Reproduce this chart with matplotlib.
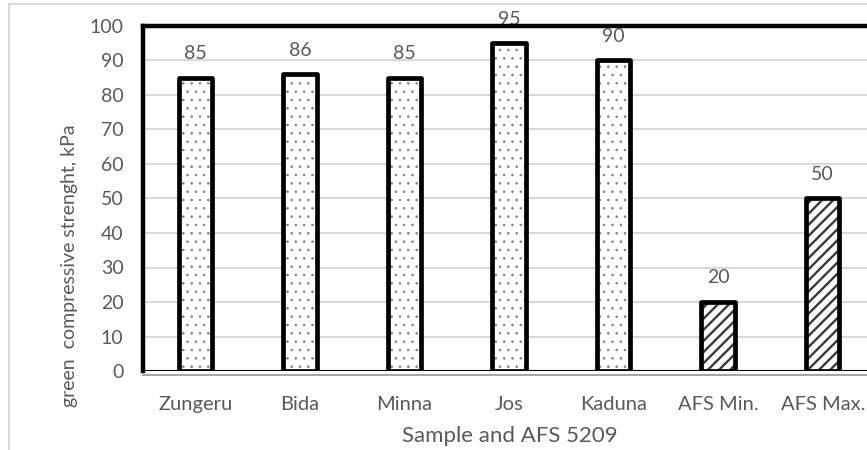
import matplotlib
matplotlib.use("Agg")
from matplotlib import pyplot as plt
from matplotlib.patches import Rectangle

categories = ["Zungeru", "Bida", "Minna", "Jos", "Kaduna", "AFS Min.", "AFS Max."]
values = [85, 86, 85, 95, 90, 20, 50]

GRAY_TXT = "#595959"
plt.rcParams["font.family"] = ["Lato", "DejaVu Sans"]

fig = plt.figure(figsize=(8.67, 4.5), dpi=100)
# outer chart frame
fig.patches.append(Rectangle((9 / 867, -0.1), 1.0, 1.1 - 4 / 450, transform=fig.transFigure,
                             fill=False, edgecolor="#d9d9d9", linewidth=1.5))

# plot area runs past the right edge of the picture
ax = fig.add_axes([143 / 867, 1 - 371 / 450, 732 / 867, 345 / 450])
x = list(range(len(categories)))
samples = x[:5]
afs = x[5:]

ax.set_ylim(0, 100)
ax.set_xlim(-0.5, len(categories) - 0.5)
ax.set_yticks(range(0, 101, 10))
ax.yaxis.grid(True, color="#d9d9d9", linewidth=1.5)
ax.set_axisbelow(True)

# hatch fill first, black outline on top
dots = ax.bar(samples, values[:5], width=0.32, color="white", edgecolor="#808080",
              hatch="..", linewidth=0, zorder=2)
stripes = ax.bar(afs, values[5:], width=0.32, color="white", edgecolor="#3a3a3a",
                 hatch="///", linewidth=0, zorder=2)
for p in dots:
    p.set_hatch_linewidth(0.6)
for p in stripes:
    p.set_hatch_linewidth(1.7)
ax.bar(x, values, width=0.32, fill=False, edgecolor="black", linewidth=3.4, joinstyle="round", zorder=3)

for xi, v in zip(x, values):
    ax.text(xi, v + 4.5, str(v), ha="center", va="bottom", fontsize=14, color=GRAY_TXT, zorder=1)

for side in ["left", "top", "right"]:
    ax.spines[side].set_linewidth(3.2)
    ax.spines[side].set_color("black")
ax.spines["bottom"].set_color("#a6a6a6")
ax.spines["bottom"].set_linewidth(1.5)
ax.spines["bottom"].set_position(("outward", 3))
ax.axhline(0, color="black", linewidth=1.5, zorder=4)

ax.set_xticks(x)
ax.set_xticklabels(categories)
ax.tick_params(axis="x", length=0, pad=15, labelsize=14.5, labelcolor=GRAY_TXT)
ax.tick_params(axis="y", length=0, pad=14, labelsize=14, labelcolor=GRAY_TXT)

fig.text(70 / 867, 184 / 450, "green  compressive strenght, kPa", rotation=90,
         ha="center", va="center", fontsize=14, color=GRAY_TXT)
fig.text(510 / 867, 1 - 436 / 450, "Sample and AFS 5209", ha="center", va="center",
         fontsize=16, color=GRAY_TXT)

fig.savefig("out.png", dpi=100)
